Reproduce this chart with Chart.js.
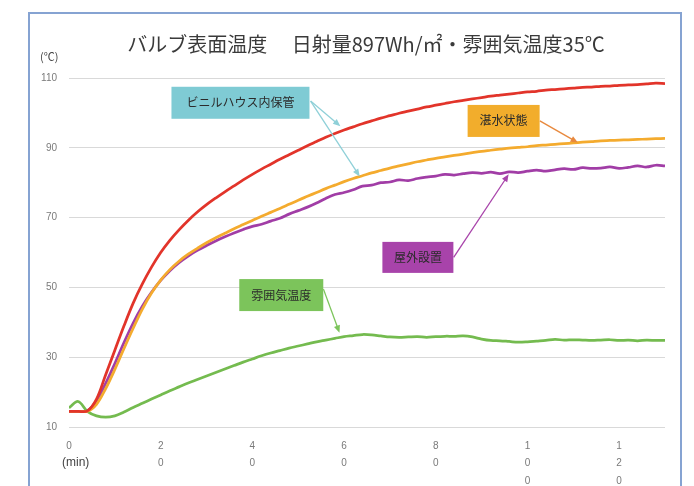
<!DOCTYPE html>
<html>
<head>
<meta charset="utf-8">
<script src="https://cdn.jsdelivr.net/npm/chart.js@4"></script>
<style>
  body { margin: 0; background: #fff; width: 694px; height: 486px; overflow: hidden; position: relative; font-family: "Noto Sans CJK JP", sans-serif; }
  #frame { position: absolute; left: 28px; top: 12px; width: 654px; height: 520px; border: 2px solid #86a3d2; box-sizing: border-box; }
  canvas { position: absolute; left: 0; top: 0; }
  .lbl { position: absolute; color: #444; white-space: nowrap; }
</style>
</head>
<body>
<div id="frame"></div>
<canvas id="chart" width="694" height="486"></canvas>
<div class="lbl" id="title" style="left:0; width:732px; top:29px; text-align:center; font-size:20px; color:#3a3a3a;">バルブ表面温度　 日射量897Wh/㎡・雰囲気温度35℃</div>
<div class="lbl" style="left:40px; top:48px; font-size:11px;">(℃)</div>
<div class="lbl" style="left:62px; top:455px; font-size:12px; font-family:'Liberation Sans', sans-serif;">(min)</div>
<script>
// elapsed time (min), one reading every 2 min
var minutes = [0,2,4,6,8,10,12,14,16,18,20,22,24,26,28,30,32,34,36,38,40,42,44,46,48,50,52,54,56,58,60,62,64,66,68,70,72,74,76,78,80,82,84,86,88,90,92,94,96,98,100,102,104,106,108,110,112,114,116,118,120,122,124,126,128,130];

// bulb surface temperature (℃)
var vinylHouse = [14.5,14.5,14.6,18,25,32,39,45.5,51,55.8,60,63.5,66.5,69.2,71.6,73.7,75.6,77.4,79.1,80.8,82.4,83.9,85.3,86.7,88,89.3,90.6,91.8,93,94.1,95.1,96,96.9,97.7,98.5,99.2,99.9,100.5,101.1,101.7,102.2,102.7,103.2,103.6,104,104.4,104.8,105.1,105.4,105.7,106,106.2,106.5,106.7,106.9,107.1,107.3,107.4,107.6,107.7,107.9,108,108.1,108.3,108.5,108.4];
var flooded = [14.5,14.5,14.5,16.5,21,26.5,32.5,38.3,43.8,48.4,52.1,55.1,57.5,59.5,61.2,62.8,64.2,65.5,66.8,68,69.2,70.4,71.5,72.6,73.8,75,76.1,77.2,78.3,79.3,80.3,81.2,82,82.8,83.5,84.2,84.8,85.4,86,86.5,87,87.4,87.8,88.2,88.6,89,89.3,89.6,89.9,90.1,90.3,90.6,90.8,91,91.2,91.4,91.6,91.8,92,92.1,92.2,92.3,92.4,92.5,92.6,92.7];
var outdoor = [14.5,14.5,14.6,17.5,22.5,28.2,34.2,39.8,44.6,48.6,52,54.8,57.1,59,60.6,62,63.3,64.5,65.6,66.6,67.5,68.1,69,69.8,71,72,73,74.2,75.5,76.6,77.2,78,79,79.3,80,80.2,80.8,80.6,81.2,81.6,81.9,82.4,82.2,82.6,82.9,82.7,83,82.6,83.1,82.9,83.3,83.6,83.3,83.7,84,83.8,84.3,84.1,84.2,84.5,84.1,84.4,84.8,84.5,85,84.8];
var ambient = [15.5,17.3,14.5,13.2,12.8,13.2,14.3,15.6,16.8,18,19.2,20.4,21.5,22.6,23.6,24.6,25.6,26.6,27.6,28.6,29.5,30.4,31.2,31.9,32.6,33.2,33.8,34.4,34.9,35.4,35.9,36.2,36.5,36.4,36.1,35.8,35.7,35.8,35.9,35.7,35.9,36,36,36.1,35.8,35.2,34.8,34.7,34.5,34.3,34.4,34.6,34.8,35.1,34.9,35,34.9,34.8,34.9,35,34.8,34.9,34.7,34.9,34.8,34.8];

var seriesNames = ['ビニルハウス内保管', '湛水状態', '屋外設置', '雰囲気温度'];
var xTicks = [0, 20, 40, 60, 80, 100, 120];
var yTicks = [10, 30, 50, 70, 90, 110];

// callout boxes, positions in data units (min, ℃)
var callouts = [
  {text: seriesNames[0], fill: '#7fcbd4', stroke: '#8fd0d8', at: [37.4, 102.9], w: 138, h: 32, from: [52.7, 103.4], tips: [[59.2, 96.2], [63.4, 81.8]]},
  {text: seriesNames[1], fill: '#f2ad2c', stroke: '#e8893e', at: [94.8, 97.7], w: 72, h: 32, from: [102.7, 97.7], tips: [[111, 91.5]]},
  {text: seriesNames[2], fill: '#a843aa', stroke: '#a843aa', at: [76.1, 58.6], w: 71, h: 31, from: [83.9, 58.6], tips: [[95.9, 82.4]]},
  {text: seriesNames[3], fill: '#7cc45b', stroke: '#7cc45b', at: [46.3, 47.8], w: 84, h: 32, from: [55.5, 49.5], tips: [[59, 37]]}
];

function toPoints(values){
  var pts = [];
  for (var i = 0; i < minutes.length; i++){
    pts.push({x: minutes[i], y: values[i]});
  }
  return pts;
}

function arrow(ctx, x1, y1, x2, y2, color){
  var ang = Math.atan2(y2 - y1, x2 - x1);
  ctx.strokeStyle = color;
  ctx.fillStyle = color;
  ctx.lineWidth = 1.3;
  ctx.beginPath();
  ctx.moveTo(x1, y1);
  ctx.lineTo(x2 - 5 * Math.cos(ang), y2 - 5 * Math.sin(ang));
  ctx.stroke();
  ctx.beginPath();
  ctx.moveTo(x2, y2);
  ctx.lineTo(x2 - 8 * Math.cos(ang - 0.4), y2 - 8 * Math.sin(ang - 0.4));
  ctx.lineTo(x2 - 8 * Math.cos(ang + 0.4), y2 - 8 * Math.sin(ang + 0.4));
  ctx.closePath();
  ctx.fill();
}

var calloutPlugin = {
  id: 'callouts',
  afterDatasetsDraw: function(chart){
    var ctx = chart.ctx;
    var xs = chart.scales.x, ys = chart.scales.y;
    ctx.save();
    callouts.forEach(function(c){
      var fx = xs.getPixelForValue(c.from[0]), fy = ys.getPixelForValue(c.from[1]);
      c.tips.forEach(function(t){
        arrow(ctx, fx, fy, xs.getPixelForValue(t[0]), ys.getPixelForValue(t[1]), c.stroke);
      });
      var cx = xs.getPixelForValue(c.at[0]), cy = ys.getPixelForValue(c.at[1]);
      ctx.fillStyle = c.fill;
      ctx.fillRect(cx - c.w / 2, cy - c.h / 2, c.w, c.h);
      ctx.fillStyle = '#2b2b2b';
      ctx.font = '12px "Noto Sans CJK JP"';
      ctx.textAlign = 'center';
      ctx.textBaseline = 'middle';
      ctx.fillText(c.text, cx, cy);
    });
    ctx.restore();
  }
};

var chart = new Chart(document.getElementById('chart'), {
  type: 'line',
  data: {
    datasets: [
      {label: seriesNames[0], data: toPoints(vinylHouse), borderColor: '#e2342a'},
      {label: seriesNames[1], data: toPoints(flooded), borderColor: '#f4ab2e'},
      {label: seriesNames[2], data: toPoints(outdoor), borderColor: '#a13da6'},
      {label: seriesNames[3], data: toPoints(ambient), borderColor: '#74bb4f'}
    ]
  },
  options: {
    responsive: false,
    animation: false,
    devicePixelRatio: 1,
    layout: {padding: {left: 0, right: 29, top: 78, bottom: 0}},
    elements: {
      point: {radius: 0},
      line: {borderWidth: 2.75, tension: 0.35, fill: false}
    },
    plugins: {legend: {display: false}, tooltip: {enabled: false}, title: {display: false}},
    scales: {
      x: {
        type: 'linear',
        min: 0,
        max: 130,
        afterFit: function(s){ s.height = 59; },
        afterBuildTicks: function(s){ s.ticks = xTicks.map(function(v){ return {value: v}; }); },
        grid: {display: false},
        border: {display: false},
        ticks: {
          color: '#7a7a7a',
          padding: 2,
          font: {family: 'Liberation Sans', size: 10, lineHeight: 1.75},
          maxRotation: 0,
          autoSkip: false,
          callback: function(v){ return String(v).split(''); }
        }
      },
      y: {
        min: 10,
        max: 110,
        afterFit: function(s){ s.width = 69; },
        afterBuildTicks: function(s){ s.ticks = yTicks.map(function(v){ return {value: v}; }); },
        grid: {color: '#d9d9d9', lineWidth: 1, drawTicks: false},
        border: {display: false},
        ticks: {color: '#7a7a7a', padding: 12, font: {family: 'Liberation Sans', size: 10}}
      }
    }
  },
  plugins: [calloutPlugin]
});
</script>
</body>
</html>
